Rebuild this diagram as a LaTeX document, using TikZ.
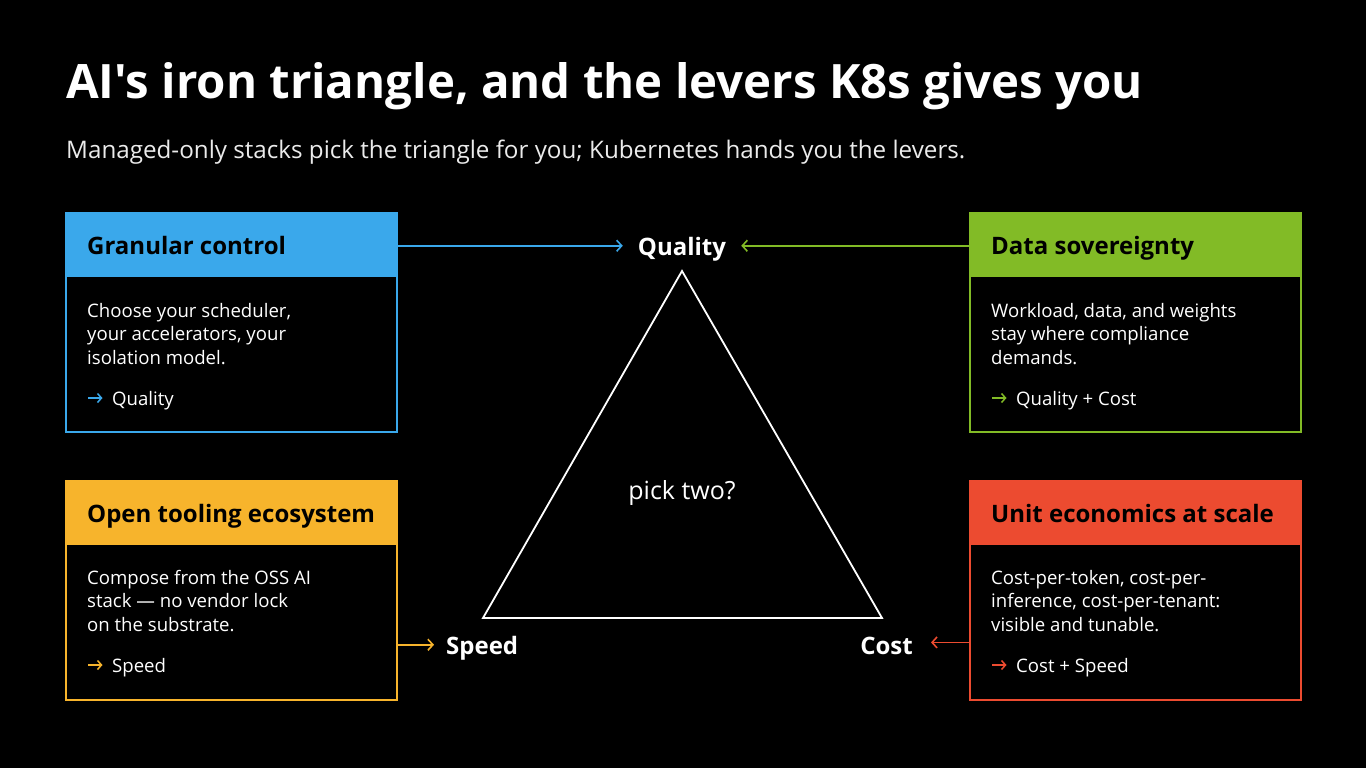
\documentclass[tikz,border=0pt]{standalone}
\usepackage{fontspec}
\setmainfont{Open Sans}
\newfontfamily\plainos{Open Sans}
\usetikzlibrary{arrows.meta}
\definecolor{cblue}{HTML}{3AA8EB}
\definecolor{cgreen}{HTML}{82BB26}
\definecolor{cyellow}{HTML}{F7B42C}
\definecolor{cred}{HTML}{EC4B30}
\tikzset{
  box/.style={draw=#1, line width=1.8pt, minimum width=331pt, minimum height=219pt, anchor=north west, inner sep=0pt},
  band/.style={fill=#1, minimum width=331pt, minimum height=65pt, anchor=north west, inner sep=0pt},
  hdr/.style={font=\bfseries\fontsize{24}{28}\selectfont, text=black, anchor=base west, inner sep=0pt},
  bodytxt/.style={font=\fontsize{18.6}{23.4}\selectfont, text=white, anchor=north west, inner sep=0pt, align=left},
  leadtxt/.style={font=\fontsize{18.6}{23.4}\selectfont, text=white, anchor=base west, inner sep=0pt},
  vlabel/.style={font=\bfseries\fontsize{24}{28}\selectfont, text=white, inner sep=0pt},
  lever/.style={draw=#1, line width=1.6pt, -{Straight Barb[length=5pt,width=11pt]}, transform canvas={yshift=3pt}},
  leadarrow/.style={draw=#1, line width=1.5pt, -{Straight Barb[length=4pt,width=9pt]}},
}
\newcommand{\firstln}{\rule{0pt}{19pt}}
\begin{document}
\begin{tikzpicture}[x=1pt,y=-1pt]
\fill[black] (0,0) rectangle (1366,768);
\useasboundingbox (0,0) rectangle (1366,768);

% title
\node[font=\plainos\bfseries\fontsize{47.4}{56}\selectfont, text=white, anchor=base west, inner sep=0pt] (title) at (66,99) {AI's iron triangle, and the levers K8s gives you};
\node[font=\fontsize{24.2}{30}\selectfont, text=white!92!black, anchor=base west, inner sep=0pt] (sub) at (66,158) {Managed-only stacks pick the triangle for you; Kubernetes hands you the levers.};

% triangle
\coordinate (tq) at (682,271);
\coordinate (ts) at (483,618);
\coordinate (tc) at (882,618);
\draw[white, line width=1.8pt, line join=miter] (tq) -- (ts) -- (tc) -- cycle;
\node[font=\fontsize{25}{30}\selectfont, text=white, inner sep=0pt] (pick) at (682,493) {pick two?};

% vertex labels
\node[vlabel, anchor=base] (q) at (682,255) {Quality};
\node[vlabel, anchor=base west] (s) at (446,654) {Speed};
\node[vlabel, anchor=base east] (c) at (913,654) {Cost};

% box 1
\node[box=cblue] (b1) at (65,212) {};
\node[band=cblue] (h1) at (65,212) {};
\node[hdr] (h1t) at (87,254) {Granular control};
\node[bodytxt] (t1) at (87,298) {\firstln Choose your scheduler,\\your accelerators, your\\isolation model.};
\node[leadtxt] (l1) at (112,405) {Quality};
\draw[leadarrow=cblue] (l1.base west) ++(-24,-7) -- ++(14.5,0);

% box 2
\node[box=cgreen] (b2) at (969,212) {};
\node[band=cgreen] (h2) at (969,212) {};
\node[hdr] (h2t) at (991,254) {Data sovereignty};
\node[bodytxt] (t2) at (991,298) {\firstln Workload, data, and weights\\stay where compliance\\demands.};
\node[leadtxt] (l2) at (1016,405) {Quality + Cost};
\draw[leadarrow=cgreen] (l2.base west) ++(-24,-7) -- ++(14.5,0);

% box 3
\node[box=cyellow] (b3) at (65,480) {};
\node[band=cyellow] (h3) at (65,480) {};
\node[hdr] (h3t) at (87,522) {Open tooling ecosystem};
\node[bodytxt] (t3) at (87,565) {\firstln Compose from the OSS AI\\stack — no vendor lock\\on the substrate.};
\node[leadtxt] (l3) at (112,672) {Speed};
\draw[leadarrow=cyellow] (l3.base west) ++(-24,-7) -- ++(14.5,0);

% box 4
\node[box=cred] (b4) at (969,480) {};
\node[band=cred] (h4) at (969,480) {};
\node[hdr] (h4t) at (991,522) {Unit economics at scale};
\node[bodytxt] (t4) at (991,565) {\firstln Cost-per-token, cost-per-\\inference, cost-per-tenant:\\visible and tunable.};
\node[leadtxt] (l4) at (1016,672) {Cost + Speed};
\draw[leadarrow=cred] (l4.base west) ++(-24,-7) -- ++(14.5,0);

% levers
\draw[lever=cblue, shorten >=15pt] (b1.east |- q.west) -- (q.west);
\draw[lever=cgreen, shorten >=15pt] (b2.west |- q.east) -- (q.east);
\draw[lever=cyellow, shorten >=12pt] (b3.east |- s.west) -- (s.west);
\draw[lever=cred, shorten >=18pt] (b4.west |- c.east) -- (c.east);
\end{tikzpicture}
\end{document}
